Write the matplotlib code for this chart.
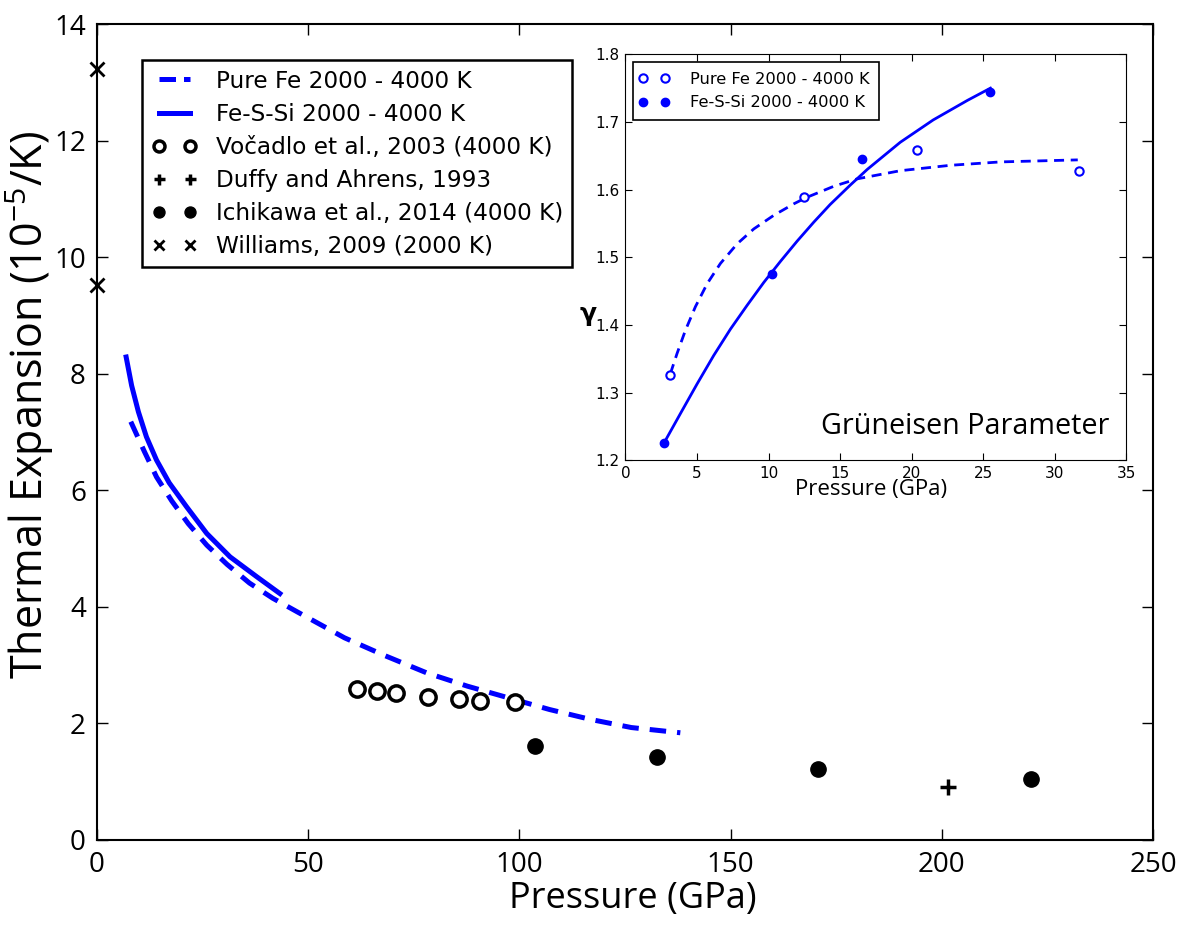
import matplotlib
matplotlib.use("Agg")
import matplotlib.pyplot as plt
from matplotlib.lines import Line2D
from matplotlib.legend_handler import HandlerLine2D

# main panel: thermal expansion vs pressure
fe_p = [8.0, 11.2, 14.1, 17.7, 21.6, 26.0, 30.8, 36.1, 41.6, 47.3, 58.6, 68.3,
        78.0, 87.7, 97.4, 107.1, 116.8, 126.5, 138.1]
fe_a = [7.18, 6.67, 6.23, 5.82, 5.43, 5.06, 4.73, 4.41, 4.15, 3.92, 3.47, 3.16,
        2.87, 2.64, 2.44, 2.24, 2.07, 1.93, 1.84]
fes_p = [6.9, 8.2, 9.8, 11.7, 14.1, 17.1, 21.2, 26.0, 31.5, 37.8, 43.3]
fes_a = [8.29, 7.80, 7.35, 6.92, 6.52, 6.13, 5.72, 5.26, 4.86, 4.52, 4.23]

voc_p = [61.6, 66.2, 70.8, 78.3, 85.6, 90.6, 98.9]
voc_a = [2.60, 2.55, 2.52, 2.45, 2.42, 2.39, 2.36]
duffy_p = [201.5]
duffy_a = [0.91]
ichi_p = [103.8, 132.6, 170.7, 221.1]
ichi_a = [1.62, 1.42, 1.22, 1.05]
will_p = [0, 0]
will_a = [13.24, 9.52]

# inset: Grueneisen parameter
g_fe_p = [3.14, 12.5, 20.4, 31.7]
g_fe = [1.326, 1.589, 1.659, 1.627]
g_fes_p = [2.68, 10.25, 16.5, 25.5]
g_fes = [1.225, 1.476, 1.646, 1.745]
g_fe_fit_p = [3.14, 3.61, 4.19, 4.89, 5.71, 6.64, 7.81, 8.97, 10.36, 11.76, 12.6,
              14.56, 16.2, 19.2, 22.7, 26.2, 31.6]
g_fe_fit = [1.328, 1.358, 1.392, 1.427, 1.461, 1.491, 1.520, 1.542, 1.562, 1.579,
            1.588, 1.605, 1.616, 1.628, 1.636, 1.641, 1.644]
g_fes_fit_p = [2.68, 3.84, 5.01, 6.17, 7.34, 8.5, 9.67, 10.83, 12.0, 13.16, 14.3,
               15.72, 16.9, 19.2, 21.5, 23.9, 25.5]
g_fes_fit = [1.225, 1.269, 1.313, 1.355, 1.394, 1.429, 1.463, 1.494, 1.524, 1.552,
             1.578, 1.607, 1.630, 1.670, 1.703, 1.732, 1.750]

label_font = ["Open Sans", "DejaVu Sans"]
plt.rcParams["font.family"] = ["DejaVu Sans"]

fig = plt.figure(figsize=(11.8, 9.3), dpi=100)
ax = fig.add_axes([0.0822, 0.0968, 0.8949, 0.877])

ax.plot(fe_p, fe_a, color="blue", lw=3.6, dashes=(3.3, 2.2), label="Pure Fe 2000 - 4000 K")
ax.plot(fes_p, fes_a, color="blue", lw=3.6, label="Fe-S-Si 2000 - 4000 K")
ax.plot(voc_p, voc_a, "o", ls="none", ms=11, mfc="white", mec="black", mew=2.5,
        label="Vočadlo et al., 2003 (4000 K)")
ax.plot(duffy_p, duffy_a, "+", ls="none", ms=11, color="black", mew=2.5,
        label="Duffy and Ahrens, 1993")
ax.plot(ichi_p, ichi_a, "o", ls="none", ms=11, color="black",
        label="Ichikawa et al., 2014 (4000 K)")
ax.plot(will_p, will_a, "x", ls="none", ms=10, color="black", mew=2,
        label="Williams, 2009 (2000 K)", clip_on=False)

ax.set_xlim(0, 250)
ax.set_ylim(0, 14)
ax.set_xticks(range(0, 251, 50))
ax.set_yticks(range(0, 15, 2))
ax.tick_params(direction="in", top=True, right=True, length=8, width=1, pad=8)
for t in ax.get_xticklabels() + ax.get_yticklabels():
    t.set_family(label_font)
    t.set_fontsize(20)
for s in ax.spines.values():
    s.set_linewidth(1.5)

ax.set_xlabel("Pressure (GPa)", family=label_font, fontsize=26)
ax.xaxis.set_label_coords(0.507, -0.05)
ax.set_ylabel(r"Thermal Expansion (10$^{\mathregular{-5}}$/K)", family=label_font, fontsize=31)
ax.yaxis.set_label_coords(-0.039, 0.533)

hmap = {Line2D: HandlerLine2D(marker_pad=0.3, numpoints=2)}
leg = ax.legend(loc="upper left", bbox_to_anchor=(0.043, 0.956), borderaxespad=0,
                handler_map=hmap, fontsize=16.7, markerscale=0.72, borderpad=0.4,
                handlelength=1.94, handletextpad=0.82, labelspacing=0.435,
                fancybox=False, framealpha=1)
leg.get_frame().set_edgecolor("black")
leg.get_frame().set_linewidth(1.8)
leg.get_lines()[0].set_dashes((3.3, 1.6))

# inset
ins = fig.add_axes([0.530, 0.505, 0.4246, 0.4366])
ins.plot(g_fe_fit_p, g_fe_fit, color="blue", lw=2, dashes=(3.6, 2.4))
ins.plot(g_fes_fit_p, g_fes_fit, color="blue", lw=2)
ins.plot(g_fe_p, g_fe, "o", ls="none", ms=6, mfc="white", mec="blue", mew=1.5,
         label="Pure Fe 2000 - 4000 K")
ins.plot(g_fes_p, g_fes, "o", ls="none", ms=6, color="blue",
         label="Fe-S-Si 2000 - 4000 K")
ins.set_xlim(0, 35)
ins.set_ylim(1.2, 1.8)
ins.set_xticks(range(0, 36, 5))
ins.set_yticks([1.2, 1.3, 1.4, 1.5, 1.6, 1.7, 1.8])
ins.tick_params(direction="in", top=True, right=True, length=5, labelsize=11, pad=4)
ins.set_xlabel("Pressure (GPa)", family=label_font, fontsize=16)
ins.xaxis.set_label_coords(0.49, -0.045)
ins.set_ylabel("γ", rotation=0, fontsize=18, fontweight="bold")
ins.yaxis.set_label_coords(-0.075, 0.33)
ins.text(0.965, 0.065, "Grüneisen Parameter", transform=ins.transAxes,
         ha="right", va="baseline", family=label_font, fontsize=20.7)
ihmap = {Line2D: HandlerLine2D(marker_pad=0.0, numpoints=2)}
ileg = ins.legend(loc="upper left", bbox_to_anchor=(0.015, 0.98), borderaxespad=0,
                  handler_map=ihmap, fontsize=11.7, borderpad=0.6,
                  handlelength=1.4, handletextpad=1.5, labelspacing=0.5,
                  fancybox=False, framealpha=1)
ileg.get_frame().set_edgecolor("black")
ileg.get_frame().set_linewidth(1.2)

fig.savefig("out.png", dpi=100)
